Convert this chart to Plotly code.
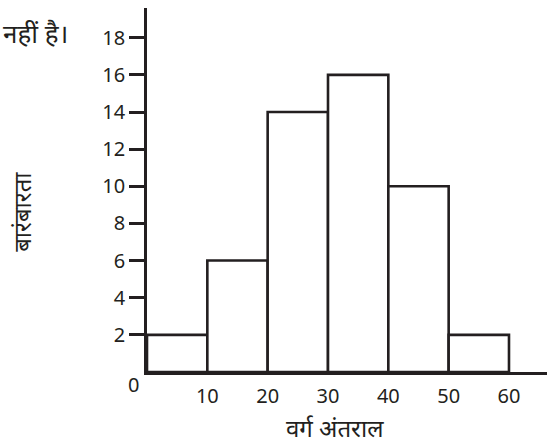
import plotly.graph_objects as go

# Class intervals and their frequencies
class_starts = [0, 10, 20, 30, 40, 50]
class_width = 10
frequencies = [2, 6, 14, 16, 10, 2]
x_tick_values = [10, 20, 30, 40, 50, 60]
y_tick_values = [2, 4, 6, 8, 10, 12, 14, 16, 18]

INK = "#231f20"
FONT = "Noto Sans, Noto Sans Devanagari, sans-serif"

centers = [s + class_width / 2 for s in class_starts]

fig = go.Figure()
fig.add_trace(go.Bar(
    x=centers,
    y=frequencies,
    width=[class_width] * len(centers),
    marker=dict(color="white", line=dict(color=INK, width=2.6)),
    hoverinfo="x+y",
))

fig.update_layout(
    width=555,
    height=445,
    margin=dict(l=147, r=8, t=8, b=73),
    paper_bgcolor="white",
    plot_bgcolor="white",
    showlegend=False,
    font=dict(family=FONT, color=INK, size=20),
    xaxis=dict(
        range=[0, 66.3],
        showgrid=False,
        zeroline=False,
        showline=True,
        linecolor=INK,
        linewidth=2.6,
        tickmode="array",
        tickvals=x_tick_values,
        ticktext=[str(v) for v in x_tick_values],
        ticks="",
        ticklabelstandoff=4,
        tickfont=dict(size=20, color=INK),
    ),
    yaxis=dict(
        range=[0, 19.6],
        showgrid=False,
        zeroline=False,
        showline=True,
        linecolor=INK,
        linewidth=2.6,
        tickmode="array",
        tickvals=y_tick_values,
        ticks="outside",
        ticklen=15,
        tickwidth=2.6,
        tickcolor=INK,
        tickfont=dict(size=20, color=INK),
    ),
    annotations=[
        dict(text="0", x=0, y=0, xref="x", yref="y", showarrow=False,
             xshift=-14, yshift=-12, font=dict(size=20, color=INK)),
        dict(text="वर्ग अंतराल", x=0.47, y=-0.152, xref="paper", yref="paper",
             xanchor="center", yanchor="middle",
             showarrow=False, font=dict(size=24, color=INK)),
        dict(text="बारंबारता", x=-0.3125, y=0.44, xref="paper", yref="paper",
             xanchor="center", yanchor="middle",
             showarrow=False, textangle=-90, font=dict(size=24, color=INK)),
        dict(text="नहीं है।", x=-0.2775, y=0.93, xref="paper", yref="paper",
             xanchor="center", yanchor="middle",
             showarrow=False, font=dict(size=26, color=INK)),
    ],
)

fig.write_html("out.html")
